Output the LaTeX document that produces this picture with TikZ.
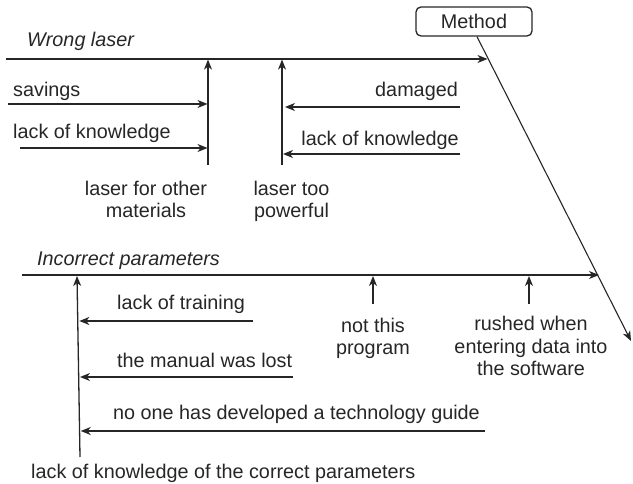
\documentclass[tikz,border=0pt]{standalone}
\usepackage{fontspec}
\setmainfont{Liberation Sans}
\usetikzlibrary{arrows.meta}
\definecolor{ink}{RGB}{38,38,38}
\begin{document}
\begin{tikzpicture}[x=1pt,y=-1pt,
  every node/.style={inner sep=0pt,text=ink,font=\fontsize{19.8}{22.3}\selectfont},
  bone/.style={draw=ink,line width=1.3pt,-{Stealth[length=10pt,width=8pt,inset=3pt]}},
  spine/.style={draw=ink,line width=1.1pt,-{Stealth[length=10pt,width=8pt,inset=3pt]}},
  lbl/.style={anchor=base west},
  rlbl/.style={anchor=base east},
  clbl/.style={align=center,anchor=base}]
\useasboundingbox (0,0) rectangle (633,484);

% Method box and spine
\node[draw=ink,line width=1.3pt,rounded corners=5pt,minimum width=116pt,minimum height=29pt] (method) at (474,21.5) {Method};
\coordinate (spineEnd) at (631,341);
\draw[spine] ([xshift=3pt]method.south) -- (spineEnd);

% Bone 1: Wrong laser
\coordinate (b1s) at (6,59);
\coordinate (b1e) at (487.5,59);
\draw[bone] (b1s) -- (b1e);
\node[lbl,font=\fontsize{19.8}{22.3}\selectfont\itshape] (wl) at (27,47) {Wrong laser};

\coordinate (v1b) at (208,165); \coordinate (v1t) at (208,59.6);
\coordinate (v2b) at (282,165); \coordinate (v2t) at (282,59.6);
\draw[bone] (v1b) -- (v1t);
\draw[bone] (v2b) -- (v2t);

\node[lbl] (sav) at (13,96.7) {savings};
\coordinate (savS) at (8,104); \coordinate (savE) at (207.5,104);
\draw[bone] (savS) -- (savE);
\node[lbl] (lk1) at (13,139) {lack of knowledge};
\coordinate (lk1S) at (20,148); \coordinate (lk1E) at (207.5,148);
\draw[bone] (lk1S) -- (lk1E);

\node[rlbl] (dam) at (458,97) {damaged};
\coordinate (damS) at (460,107); \coordinate (damE) at (285,107);
\draw[bone] (damS) -- (damE);
\node[rlbl] (lk2) at (459,146) {lack of knowledge};
\coordinate (lk2S) at (460,154); \coordinate (lk2E) at (283,154);
\draw[bone] (lk2S) -- (lk2E);

\node[clbl] (lom) at (146,218) {laser for other\\materials};
\node[clbl] (ltp) at (291.5,218) {laser too\\powerful};

% Bone 2: Incorrect parameters
\coordinate (b2s) at (22,275);
\coordinate (b2e) at (599,275);
\draw[bone] (b2s) -- (b2e);
\node[lbl,font=\fontsize{19.8}{22.3}\selectfont\itshape] (ip) at (37,266) {Incorrect parameters};

\coordinate (v3b) at (80,457); \coordinate (v3t) at (77,276);
\draw[bone] (v3b) -- (v3t);

\node[lbl] (lt) at (117,310) {lack of training};
\coordinate (ltS) at (253,321); \coordinate (ltE) at (79.3,321);
\draw[bone] (ltS) -- (ltE);
\node[lbl] (mwl) at (117,367.7) {the manual was lost};
\coordinate (mwlS) at (293,377); \coordinate (mwlE) at (80,377);
\draw[bone] (mwlS) -- (mwlE);
\node[lbl] (noone) at (113,420) {no one has developed a technology guide};
\coordinate (nooneS) at (485,431); \coordinate (nooneE) at (80.7,431);
\draw[bone] (nooneS) -- (nooneE);

\node[lbl] (lkcp) at (31,478) {lack of knowledge of the correct parameters};

\coordinate (v4b) at (373,304); \coordinate (v4t) at (373,276);
\draw[bone] (v4b) -- (v4t);
\node[clbl] (ntp) at (373,355) {not this\\program};
\coordinate (v5b) at (529,304); \coordinate (v5t) at (529,276);
\draw[bone] (v5b) -- (v5t);
\node[clbl] (rush) at (531,375.5) {rushed when\\entering data into\\the software};
\end{tikzpicture}
\end{document}
